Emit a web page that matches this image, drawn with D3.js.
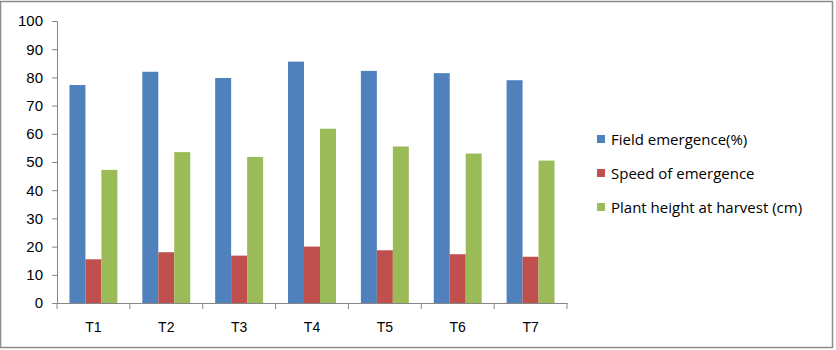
<!DOCTYPE html>
<html>
<head>
<meta charset="utf-8">
<script src="https://cdn.jsdelivr.net/npm/d3@7"></script>
<style>
  body { margin: 0; background: #fff; }
  svg { font-family: "Open Sans", "Liberation Sans", sans-serif; }
</style>
</head>
<body>
<div id="chart"></div>
<script>
// chart values
const categories = ["T1", "T2", "T3", "T4", "T5", "T6", "T7"];
const seriesNames = ["Field emergence(%)", "Speed of emergence", "Plant height at harvest (cm)"];
const fieldEmergence = [77.3, 82.0, 79.8, 85.6, 82.3, 81.5, 79.0];
const speedOfEmergence = [15.5, 18.0, 16.8, 20.0, 18.7, 17.3, 16.4];
const plantHeight = [47.2, 53.5, 51.8, 61.8, 55.5, 53.0, 50.5];
const yTicks = [0, 10, 20, 30, 40, 50, 60, 70, 80, 90, 100];
const colors = ["#4F81BD", "#C0504D", "#9BBB59"];

const width = 836, height = 350;
const seriesValues = [fieldEmergence, speedOfEmergence, plantHeight];

const svg = d3.select("#chart").append("svg")
    .attr("width", width)
    .attr("height", height);

// outer border
svg.append("rect")
    .attr("x", 0.5).attr("y", 1.5)
    .attr("width", width - 4).attr("height", height - 4)
    .attr("fill", "none")
    .attr("stroke", "#8c8c8c")
    .attr("stroke-width", 1.5);

const x = d3.scaleBand().domain(categories).range([57, 567]);
const xInner = d3.scaleBand().domain(seriesNames).range([0, x.bandwidth()]).paddingInner(0).paddingOuter(0.78);
const y = d3.scaleLinear().domain([0, 100]).range([303, 21]);

// bars
seriesNames.forEach((name, si) => {
    svg.append("g")
        .selectAll("rect")
        .data(categories)
        .join("rect")
        .attr("x", d => x(d) + xInner(name))
        .attr("y", (d, i) => y(seriesValues[si][i]))
        .attr("width", xInner.bandwidth())
        .attr("height", (d, i) => y(0) - y(seriesValues[si][i]))
        .attr("fill", colors[si]);
});

// y axis
const yAxis = svg.append("g")
    .attr("transform", "translate(57,0)")
    .call(d3.axisLeft(y).tickValues(yTicks).tickSize(5).tickPadding(9));
yAxis.select(".domain").attr("stroke", "#868686");
yAxis.selectAll(".tick line").attr("stroke", "#868686");
yAxis.selectAll("text").attr("font-size", "15px").attr("fill", "#000");

// x axis
const xAxis = svg.append("g")
    .attr("transform", "translate(0,303)")
    .call(d3.axisBottom(x).tickSize(0).tickPadding(19));
xAxis.select(".domain").attr("stroke", "#868686");
xAxis.selectAll("text").attr("font-size", "14px").attr("fill", "#000");

// x tick marks on band edges
svg.append("g")
    .selectAll("line")
    .data(categories.concat(["end"]))
    .join("line")
    .attr("x1", (d, i) => i < categories.length ? x(d) : x.range()[1])
    .attr("x2", (d, i) => i < categories.length ? x(d) : x.range()[1])
    .attr("y1", 303).attr("y2", 309)
    .attr("stroke", "#868686");

// legend
const legend = svg.append("g").attr("transform", "translate(597,140)");
seriesNames.forEach((name, i) => {
    const row = legend.append("g").attr("transform", `translate(0,${i * 34})`);
    row.append("rect")
        .attr("x", 0).attr("y", -5)
        .attr("width", 8).attr("height", 8)
        .attr("fill", colors[i]);
    row.append("text")
        .attr("x", 14).attr("y", 0)
        .attr("dy", "0.35em")
        .attr("font-size", "15px")
        .attr("fill", "#000")
        .text(name);
});
</script>
</body>
</html>
